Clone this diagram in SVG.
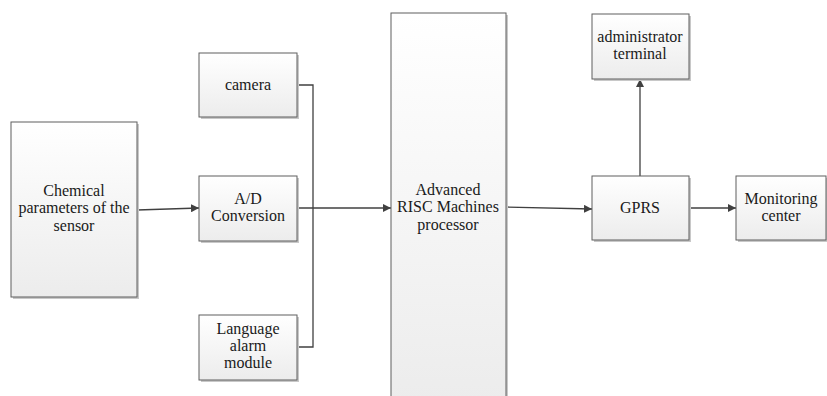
<svg xmlns="http://www.w3.org/2000/svg" width="827" height="396" viewBox="0 0 827 396">
<style>
.box{fill:url(#g);stroke:#5f5f5f;stroke-width:1}
.sh{fill:#c8c8c8}
text{font-family:"Liberation Serif","Times New Roman",serif;font-size:16px;fill:#1a1a1a;text-anchor:middle}
.c{fill:none;stroke:#404040;stroke-width:1.3}
</style>
<defs>
<linearGradient id="g" x1="0" y1="0" x2="0" y2="1">
<stop offset="0" stop-color="#ffffff"/>
<stop offset="1" stop-color="#ececec"/>
</linearGradient>
<marker id="a" viewBox="0 0 10 10" refX="10" refY="5" markerWidth="8" markerHeight="8" markerUnits="userSpaceOnUse" orient="auto">
<path d="M0,0 L10,5 L0,10 z" fill="#404040"/>
</marker>
</defs>
<g id="connectors">
<line class="c" x1="137" y1="210" x2="199" y2="208" marker-end="url(#a)"/>
<line class="c" x1="297" y1="208" x2="391" y2="208" marker-end="url(#a)"/>
<polyline class="c" points="297,85 313,85 313,347 297,347"/>
<line class="c" x1="506" y1="207" x2="592" y2="209" marker-end="url(#a)"/>
<line class="c" x1="689" y1="208" x2="736" y2="208" marker-end="url(#a)"/>
<line class="c" x1="640" y1="176" x2="640" y2="79" marker-end="url(#a)"/>
</g>
<g id="chemical">
<rect class="sh" x="13" y="124" width="126" height="175"/>
<rect class="box" x="11" y="122" width="126" height="175"/>
<text x="74" y="196">Chemical</text>
<text x="74" y="213">parameters of the</text>
<text x="74" y="231">sensor</text>
</g>
<g id="camera">
<rect class="sh" x="201" y="55" width="98" height="64"/>
<rect class="box" x="199" y="53" width="98" height="64"/>
<text x="248" y="90">camera</text>
</g>
<g id="ad">
<rect class="sh" x="201" y="178" width="98" height="65"/>
<rect class="box" x="199" y="176" width="98" height="65"/>
<text x="248" y="204">A/D</text>
<text x="248" y="221">Conversion</text>
</g>
<g id="language">
<rect class="sh" x="201" y="317" width="98" height="65"/>
<rect class="box" x="199" y="315" width="98" height="65"/>
<text x="248" y="334">Language</text>
<text x="248" y="351">alarm</text>
<text x="248" y="368">module</text>
</g>
<g id="arm">
<rect class="sh" x="393" y="15" width="115" height="390"/>
<rect class="box" x="391" y="13" width="115" height="390"/>
<text x="448" y="195">Advanced</text>
<text x="448" y="212">RISC Machines</text>
<text x="448" y="230">processor</text>
</g>
<g id="admin">
<rect class="sh" x="594" y="16" width="97" height="65"/>
<rect class="box" x="592" y="14" width="97" height="65"/>
<text x="640" y="42">administrator</text>
<text x="640" y="59">terminal</text>
</g>
<g id="gprs">
<rect class="sh" x="594" y="178" width="97" height="64"/>
<rect class="box" x="592" y="176" width="97" height="64"/>
<text x="640" y="213">GPRS</text>
</g>
<g id="monitoring">
<rect class="sh" x="738" y="178" width="90" height="64"/>
<rect class="box" x="736" y="176" width="90" height="64"/>
<text x="781" y="204">Monitoring</text>
<text x="781" y="221">center</text>
</g>
</svg>
